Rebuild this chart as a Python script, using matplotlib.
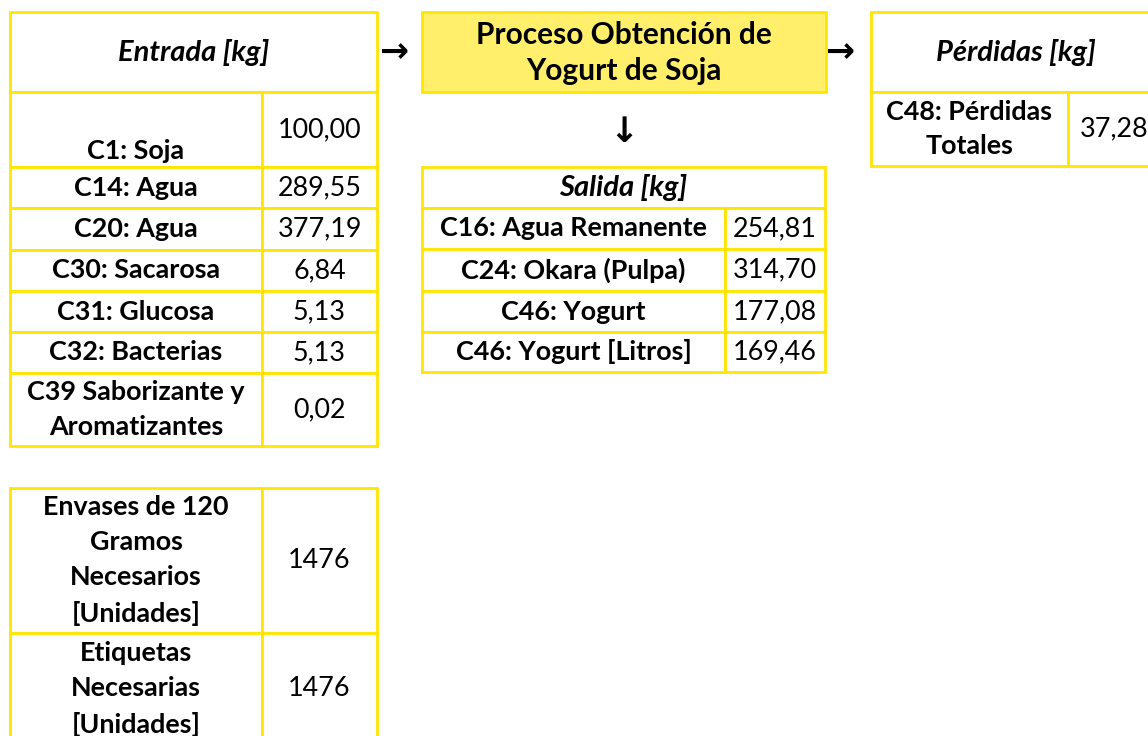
import matplotlib.pyplot as plt
from matplotlib.patches import Rectangle

# data
entrada_labels = ["C1: Soja", "C14: Agua", "C20: Agua", "C30: Sacarosa", "C31: Glucosa",
                  "C32: Bacterias", "C39 Saborizante y\nAromatizantes"]
entrada_values = ["100,00", "289,55", "377,19", "6,84", "5,13", "5,13", "0,02"]
salida_labels = ["C16: Agua Remanente", "C24: Okara (Pulpa)", "C46: Yogurt", "C46: Yogurt [Litros]"]
salida_values = ["254,81", "314,70", "177,08", "169,46"]
perdidas_labels = ["C48: Pérdidas\nTotales"]
perdidas_values = ["37,28"]
envases_labels = ["Envases de 120\nGramos\nNecesarios\n[Unidades]", "Etiquetas\nNecesarias\n[Unidades]"]
envases_values = ["1476", "1476"]

BORDER = "#FFE600"
FILL = "#FFEF6B"
FS = 19.4
FS_HEAD = 21
plt.rcParams['font.family'] = ['Lato', 'DejaVu Sans']

fig = plt.figure(figsize=(11.48, 7.36), dpi=100)
ax = fig.add_axes([0, 0, 1, 1])
ax.set_xlim(0, 1148)
ax.set_ylim(736, 0)
ax.axis('off')


def box(x0, y0, x1, y1, fill="white"):
    ax.add_patch(Rectangle((x0, y0), x1 - x0, y1 - y0, facecolor=fill,
                           edgecolor=BORDER, linewidth=2, zorder=1))


def txt(x, y, s, bold=True, italic=False, va="center", size=FS):
    ax.text(x, y, s, ha="center", va=va, fontsize=size,
            fontweight="bold" if bold else "normal",
            fontstyle="italic" if italic else "normal",
            linespacing=1.55, zorder=3)


def table(x0, xs, x1, header, hy, row_ys, labels, values, bottom_first=False):
    if header is not None:
        box(x0, hy[0], x1, hy[1])
        txt((x0 + x1) / 2, (hy[0] + hy[1]) / 2, header, italic=True, size=FS_HEAD)
    for i, (lab, val) in enumerate(zip(labels, values)):
        ya, yb = row_ys[i], row_ys[i + 1]
        box(x0, ya, xs, yb)
        box(xs, ya, x1, yb)
        if bottom_first and i == 0:
            txt((x0 + xs) / 2, yb - 4, lab, va="bottom")
        else:
            txt((x0 + xs) / 2, (ya + yb) / 2, lab)
        txt((xs + x1) / 2, (ya + yb) / 2, val, bold=False)


# entrada
table(10, 262, 377, "Entrada [kg]", (12, 92),
      [92, 167, 208, 250, 291, 332, 373, 446],
      entrada_labels, entrada_values, bottom_first=True)

# proceso
box(422, 12, 826, 92, fill=FILL)
ax.text(624, 53, "Proceso Obtención de\nYogurt de Soja", ha="center", va="center",
        fontsize=21.5, fontweight="bold", linespacing=1.32, zorder=3)

# salida
table(422, 725, 825, "Salida [kg]", (167, 208),
      [208, 249, 291, 332, 372], salida_labels, salida_values)

# perdidas
table(871, 1068, 1160, "Pérdidas [kg]", (12, 92),
      [92, 166], perdidas_labels, perdidas_values)

# envases / etiquetas
table(10, 262, 377, None, None,
      [488, 633, 745], envases_labels, envases_values)

# flechas
for x, y, s in [(394, 52, "→"), (840, 52, "→"), (624, 132, "↓")]:
    ax.text(x, y, s, ha="center", va="center", fontsize=25, fontweight="bold",
            family="DejaVu Sans", zorder=3)

fig.savefig("out.png", dpi=100)
